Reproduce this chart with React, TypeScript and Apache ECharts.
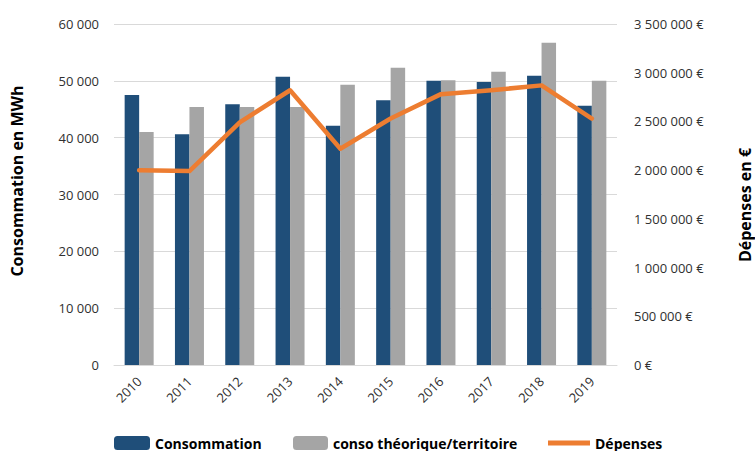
import React, { useEffect, useRef } from "react";
import * as echarts from "echarts";

const years = ["2010", "2011", "2012", "2013", "2014", "2015", "2016", "2017", "2018", "2019"];
const consommation = [47500, 40600, 45900, 50700, 42100, 46600, 50000, 49800, 50900, 45600];
const consoTheorique = [41000, 45400, 45400, 45400, 49300, 52300, 50100, 51600, 56700, 50000];
const depenses = [2000000, 1990000, 2490000, 2820000, 2220000, 2530000, 2780000, 2820000, 2870000, 2530000];

const leftTicks = { min: 0, max: 60000, interval: 10000 };
const rightTicks = { min: 0, max: 3500000, interval: 500000 };

const FONT = "'Open Sans', 'Noto Sans', sans-serif";

function fmt(v: number): string {
  return String(Math.round(v)).replace(/\B(?=(\d{3})+(?!\d))/g, " ");
}

export default function App() {
  const ref = useRef<HTMLDivElement>(null);
  useEffect(() => {
    document.body.style.margin = "0";
    if (!ref.current) return;
    const chart = echarts.init(ref.current, undefined, { renderer: "svg" });
    const legendText = { fontFamily: FONT, fontSize: 14, fontWeight: "bold" as const, color: "#000" };
    chart.setOption({
      animation: false,
      textStyle: { fontFamily: FONT },
      grid: { left: 114, right: 138, top: 24, bottom: 86, containLabel: false },
      legend: [
        {
          data: ["Consommation"], left: 114, top: 436, itemWidth: 36, itemHeight: 14,
          textStyle: legendText, padding: 0,
        },
        {
          data: ["conso théorique/territoire"], left: 293, top: 436, itemWidth: 35, itemHeight: 14,
          textStyle: legendText, padding: 0,
        },
        {
          data: [{ name: "Dépenses", icon: "path://M0,0 L42,0 L42,5 L0,5 Z" }], left: 548, top: 436, itemWidth: 42, itemHeight: 14,
          textStyle: legendText, padding: 0,
        },
      ],
      xAxis: {
        type: "category",
        data: years,
        axisLine: { lineStyle: { color: "#d9d9d9", width: 1 } },
        axisTick: { show: false },
        axisLabel: { rotate: 45, color: "#303030", fontSize: 13, margin: 14, fontFamily: FONT },
      },
      yAxis: [
        {
          type: "value",
          ...leftTicks,
          axisLine: { show: false },
          axisTick: { show: false },
          splitLine: { lineStyle: { color: "#d9d9d9", width: 1 } },
          axisLabel: { color: "#303030", fontSize: 13, margin: 15, formatter: (v: number) => fmt(v), fontFamily: FONT },
        },
        {
          type: "value",
          ...rightTicks,
          position: "right",
          axisLine: { show: false },
          axisTick: { show: false },
          splitLine: { show: false },
          axisLabel: { color: "#303030", fontSize: 13, margin: 17, formatter: (v: number) => fmt(v) + " €", fontFamily: FONT },
        },
      ],
      graphic: [
        {
          type: "text", x: 17, y: 181, rotation: Math.PI / 2,
          style: { text: "Consommation en MWh", fontFamily: FONT, fontSize: 16, fontWeight: "bold", fill: "#000", textAlign: "center", textVerticalAlign: "middle" },
        },
        {
          type: "text", x: 745, y: 205, rotation: Math.PI / 2,
          style: { text: "Dépenses en €", fontFamily: FONT, fontSize: 16, fontWeight: "bold", fill: "#000", textAlign: "center", textVerticalAlign: "middle" },
        },
      ],
      series: [
        {
          name: "Consommation", type: "bar", data: consommation, barWidth: 14.5, barGap: "0%",
          itemStyle: { color: "#1F4E79" },
        },
        {
          name: "conso théorique/territoire", type: "bar", data: consoTheorique, barWidth: 14.5, barGap: "0%",
          itemStyle: { color: "#A5A5A5" },
        },
        {
          name: "Dépenses", type: "line", yAxisIndex: 1, data: depenses, symbol: "none", showSymbol: false,
          lineStyle: { color: "#ED7D31", width: 4.5, cap: "round", join: "round" },
          itemStyle: { color: "#ED7D31" },
        },
      ],
    });
    return () => chart.dispose();
  }, []);
  return <div ref={ref} style={{ width: 755, height: 451 }} />;
}
